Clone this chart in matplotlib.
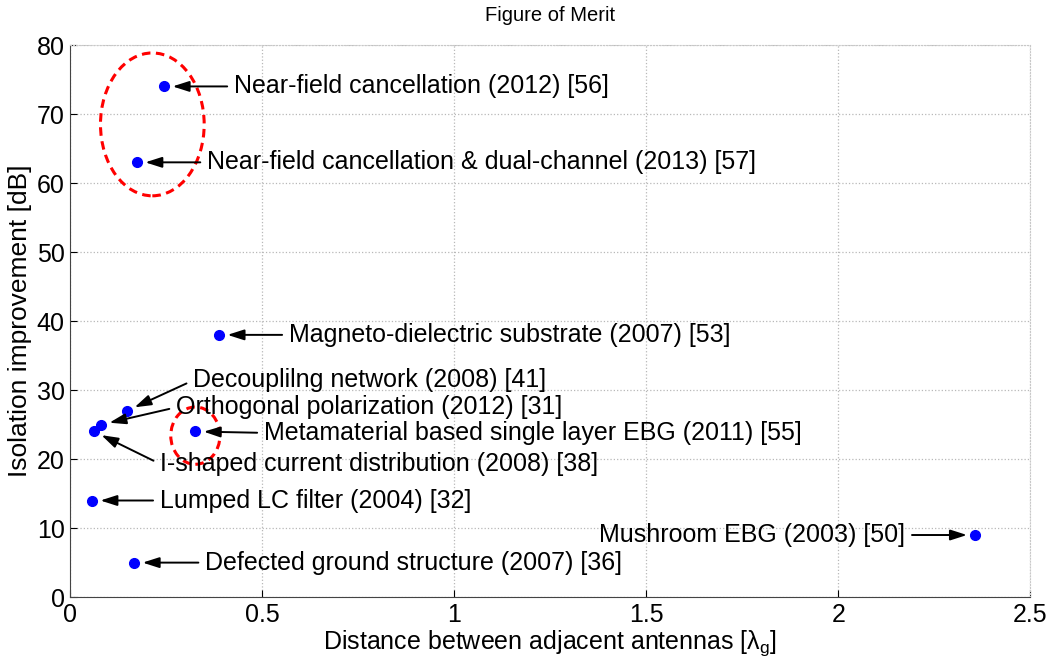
import matplotlib
matplotlib.use('Agg')
import matplotlib.pyplot as plt
from matplotlib.patches import Ellipse

plt.rcParams['font.family'] = ['Liberation Sans', 'DejaVu Sans']
plt.rcParams['mathtext.fontset'] = 'custom'
plt.rcParams['mathtext.rm'] = 'Liberation Sans'
plt.rcParams['mathtext.it'] = 'Liberation Sans'

# Separacion entre antenas (en longitudes de onda guiada) y mejora de aislamiento (dB)
etiquetas = [
    'Near-field cancellation (2012) [56]',
    'Near-field cancellation & dual-channel (2013) [57]',
    'Magneto-dielectric substrate (2007) [53]',
    'Decouplilng network (2008) [41]',
    'Orthogonal polarization (2012) [31]',
    'I-shaped current distribution (2008) [38]',
    'Metamaterial based single layer EBG (2011) [55]',
    'Lumped LC filter (2004) [32]',
    'Defected ground structure (2007) [36]',
    'Mushroom EBG (2003) [50]',
]
distancia = [0.245, 0.174, 0.388, 0.148, 0.081, 0.062, 0.326, 0.057, 0.167, 2.357]
aislamiento = [74, 63, 38, 27, 25, 24, 24, 14, 5, 9]

# Posicion de cada texto (x, y, alineacion)
pos_texto = [
    (0.427, 74.0, 'left'),
    (0.357, 63.0, 'left'),
    (0.570, 38.0, 'left'),
    (0.320, 31.4, 'left'),
    (0.276, 27.5, 'left'),
    (0.234, 19.3, 'left'),
    (0.505, 23.8, 'left'),
    (0.234, 14.0, 'left'),
    (0.352, 5.0, 'left'),
    (2.174, 9.0, 'right'),
]

fig = plt.figure(figsize=(10.47, 6.62), dpi=100)
ax = fig.add_axes([0.067, 0.098, 0.917, 0.834])

ax.plot(distancia, aislamiento, 'o', color='#0000ff', markersize=7, zorder=3)

for etiqueta, x, y, (tx, ty, ha) in zip(etiquetas, distancia, aislamiento, pos_texto):
    rel = (0, 0.5) if ha == 'left' else (1, 0.5)
    ax.annotate(etiqueta, xy=(x, y), xytext=(tx, ty), ha=ha, va='center',
                fontsize=18,
                arrowprops=dict(arrowstyle='-|>,head_length=0.5,head_width=0.16',
                                color='k', lw=1.4, mutation_scale=20,
                                shrinkA=3, shrinkB=6, relpos=rel))

# Grupos destacados
ax.add_patch(Ellipse((0.214, 68.5), 0.27, 20.7, fill=False, ec='#ff0000',
                     ls=(0, (2.8, 1.8)), lw=2.2, zorder=2))
ax.add_patch(Ellipse((0.326, 23.4), 0.128, 8.3, fill=False, ec='#ff0000',
                     ls=(0, (2.8, 1.8)), lw=2.2, zorder=2))

ax.set_xlim(0, 2.5)
ax.set_ylim(0, 80)
ax.set_xticks([0, 0.5, 1, 1.5, 2, 2.5])
ax.set_xticklabels(['0', '0.5', '1', '1.5', '2', '2.5'])
ax.set_yticks(range(0, 81, 10))
ax.tick_params(direction='in', labelsize=18, length=5, pad=4, top=False, right=False)
ax.grid(True, ls=':', color='#b8b8b8', lw=0.9)
for s in ['top', 'right']:
    ax.spines[s].set_color('#c8c8c8')
    ax.spines[s].set_linestyle(':')
for s in ['left', 'bottom']:
    ax.spines[s].set_color('#444444')

ax.set_title('Figure of Merit', fontsize=14.5, pad=17)
ax.set_xlabel(r'Distance between adjacent antennas [$\lambda_g$]', fontsize=18, labelpad=1)
ax.set_ylabel('Isolation improvement [dB]', fontsize=19, labelpad=3)

fig.savefig('out.png', dpi=100)
